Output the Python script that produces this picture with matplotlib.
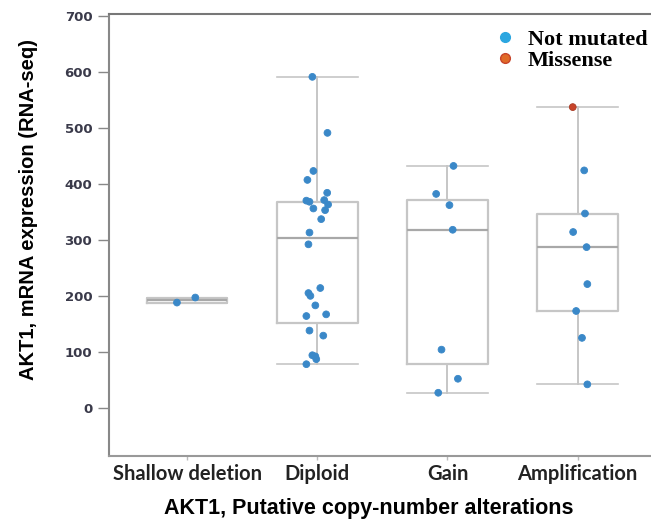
import matplotlib.pyplot as plt
from matplotlib.lines import Line2D

# categories and values
categories = ['Shallow deletion', 'Diploid', 'Gain', 'Amplification']

shallow_vals = [188, 197]
shallow_jit = [-0.078, 0.063]

diploid_vals = [591, 491, 423, 407, 384, 371, 370, 368, 363, 356, 353, 337, 313,
                292, 214, 205, 200, 183, 167, 164, 138, 129, 94, 92, 87, 78]
diploid_jit = [-0.038, 0.078, -0.03, -0.076, 0.076, 0.053, -0.084, -0.06, 0.083, -0.03,
               0.06, 0.03, -0.06, -0.068, 0.023, -0.068, -0.053, -0.015, 0.068, -0.084,
               -0.06, 0.046, -0.038, -0.015, -0.008, -0.084]

gain_vals = [432, 382, 362, 318, 104, 52, 27]
gain_jit = [0.046, -0.087, 0.015, 0.04, -0.046, 0.08, -0.071]

amp_vals = [537, 424, 347, 314, 287, 221, 173, 125, 42]
amp_jit = [-0.038, 0.05, 0.056, -0.035, 0.068, 0.074, -0.012, 0.033, 0.074]
amp_missense = [True, False, False, False, False, False, False, False, False]

# box statistics as drawn in the reference
q1 = [188, 152, 79, 173]
med = [192, 303, 318, 287]
q3 = [197, 368, 371, 347]
whislo = [188, 78, 27, 42]
whishi = [197, 591, 432, 537]

values = [shallow_vals, diploid_vals, gain_vals, amp_vals]
jitter = [shallow_jit, diploid_jit, gain_jit, amp_jit]
missense = [[False] * 2, [False] * 26, [False] * 7, amp_missense]

blue = '#3a88c8'
red = '#c8442a'

fig = plt.figure(figsize=(6.51, 5.23), dpi=100)
ax = fig.add_axes([0.1674, 0.128, 0.84, 0.845])

stats = []
for i in range(len(categories)):
    stats.append({'q1': q1[i], 'med': med[i], 'q3': q3[i],
                  'whislo': whislo[i], 'whishi': whishi[i], 'fliers': []})

box_w = 0.62
ax.bxp(stats, positions=range(len(categories)), widths=box_w, capwidths=box_w,
       showfliers=False, patch_artist=False,
       boxprops=dict(color='#c6c6c6', linewidth=1.6),
       whiskerprops=dict(color='#c6c6c6', linewidth=1.4),
       capprops=dict(color='#c6c6c6', linewidth=1.2),
       medianprops=dict(color='#a8a8a8', linewidth=1.6))

for i, vals in enumerate(values):
    xs = [i + j for j in jitter[i]]
    cols = [red if m else blue for m in missense[i]]
    edges = ['#a83a24' if m else blue for m in missense[i]]
    ax.scatter(xs, vals, s=24, c=cols, edgecolors=edges, linewidths=0.6, zorder=3)

ax.set_xlim(-0.6, 3.6)
ax.set_ylim(-86, 703)
ax.set_yticks([0, 100, 200, 300, 400, 500, 600, 700])
ax.set_xticks(range(len(categories)))
ax.set_xticklabels(categories, family='Lato', fontweight='bold', fontsize=14.5,
                   color='#222222')
for lab in ax.get_yticklabels():
    lab.set_fontweight('bold')
    lab.set_fontsize(9.5)
    lab.set_color('#3a3a4a')

ax.tick_params(axis='y', length=8, color='#888888', width=1, pad=4)
ax.tick_params(axis='x', length=3, color='#bbbbbb', width=1, pad=3)

ax.spines['right'].set_visible(False)
ax.spines['top'].set_color('#777777')
ax.spines['left'].set_color('#888888')
ax.spines['bottom'].set_color('#999999')
ax.spines['top'].set_linewidth(1.5)
ax.spines['left'].set_linewidth(1.5)
ax.spines['bottom'].set_linewidth(1.5)

ax.set_xlabel('AKT1, Putative copy-number alterations', fontsize=15.5,
              fontweight='bold', family='Liberation Sans')
ax.set_ylabel('AKT1, mRNA expression (RNA-seq)', fontsize=14.5,
              fontweight='bold', family='Liberation Sans')
ax.xaxis.set_label_coords(0.4755, -0.095)
ax.yaxis.set_label_coords(-0.13, 0.557)

handles = [Line2D([], [], marker='o', linestyle='', markersize=7,
                  markerfacecolor='#2ba6e0', markeredgecolor='#2ba6e0'),
           Line2D([], [], marker='o', linestyle='', markersize=7,
                  markerfacecolor='#e06a28', markeredgecolor='#c8442a')]
ax.legend(handles, ['Not mutated', 'Missense'], loc='upper left',
          bbox_to_anchor=(0.676, 1.0), frameon=False, handletextpad=0.5,
          labelspacing=0.0, borderaxespad=0.3, handlelength=1.0,
          prop={'family': 'Liberation Serif', 'weight': 'bold', 'size': 16})

fig.savefig('out.png', dpi=100)
